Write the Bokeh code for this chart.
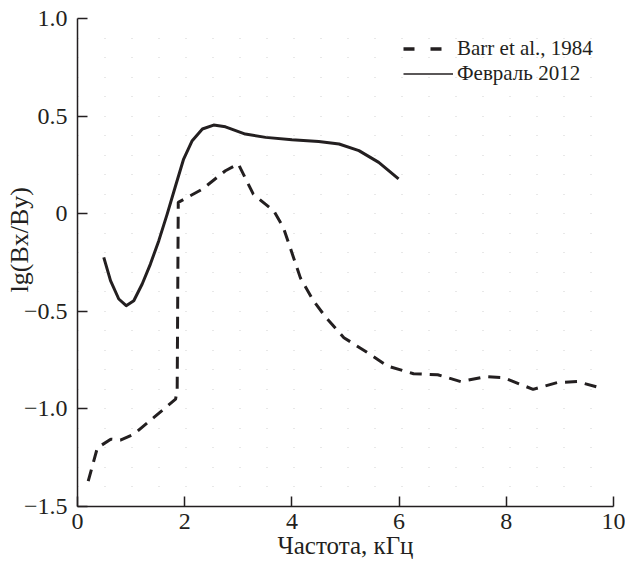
from bokeh.plotting import figure
from bokeh.models import Legend, LegendItem, SingleIntervalTicker, FixedTicker, ColumnDataSource
from bokeh.embed import file_html
from bokeh.resources import INLINE

# ---- data ----
barr_x = [0.2, 0.37, 0.62, 0.8, 1.05, 1.42, 1.83, 1.86, 1.88, 2.33, 2.76, 3.0, 3.28, 3.5, 3.66, 3.84,
          4.16, 4.4, 4.63, 4.97, 5.4, 5.78, 6.27, 6.72, 7.15, 7.62, 7.95, 8.5, 8.95, 9.33, 9.72]
barr_y = [-1.37, -1.2, -1.155, -1.16, -1.13, -1.045, -0.95, -0.9, 0.058, 0.126, 0.22, 0.255, 0.10, 0.05, 0.015, -0.07,
          -0.33, -0.445, -0.53, -0.635, -0.71, -0.78, -0.82, -0.825, -0.86, -0.835, -0.84, -0.90, -0.865, -0.86, -0.89]
feb_x = [0.49, 0.616, 0.77, 0.908, 1.05, 1.207, 1.36, 1.517, 1.673, 1.83, 1.98, 2.14, 2.33, 2.54, 2.76,
         3.13, 3.51, 4.0, 4.5, 4.88, 5.25, 5.62, 5.99]
feb_y = [-0.224, -0.343, -0.437, -0.471, -0.446, -0.36, -0.258, -0.138, -0.002, 0.143, 0.28, 0.374, 0.434,
         0.454, 0.445, 0.408, 0.391, 0.379, 0.370, 0.357, 0.323, 0.263, 0.178]
series_names = ["Barr et al., 1984", "Февраль 2012"]
x_ticks = [0, 2, 4, 6, 8, 10]
y_ticks = [-1.5, -1.0, -0.5, 0, 0.5, 1.0]
y_tick_labels = {-1.5: "\u22121.5", -1.0: "\u22121.0", -0.5: "\u22120.5", 0: "0", 0.5: "0.5", 1.0: "1.0"}
x_title = "Частота, кГц"
y_title = "lg(Bx/By)"

FONT = "Liberation Serif"
INK = "#231f20"

p = figure(frame_width=536, frame_height=488, x_range=(0, 10), y_range=(-1.5, 1.0),
           output_backend="svg", toolbar_location=None,
           min_border_left=77, min_border_right=12, min_border_top=18, min_border_bottom=62)
p.outline_line_color = None
p.background_fill_color = "white"

# faint dotted grid (dots at lattice points)
p.xgrid.grid_line_color = None
p.ygrid.ticker = SingleIntervalTicker(interval=0.1)
p.ygrid.grid_line_color = "#d0d0d0"
p.ygrid.grid_line_dash = "1 26"
p.ygrid.grid_line_width = 1

for ax, ticks in ((p.xaxis[0], x_ticks), (p.yaxis[0], y_ticks)):
    ax.ticker = FixedTicker(ticks=ticks)
    ax.minor_tick_line_color = None
    ax.major_tick_in = 10
    ax.major_tick_out = 0
    ax.major_tick_line_color = INK
    ax.major_tick_line_width = 1.5
    ax.axis_line_color = INK
    ax.axis_line_width = 1.5
    ax.major_label_text_font = FONT
    ax.major_label_text_font_size = "24px"
    ax.major_label_text_color = INK
    ax.axis_label_text_font = FONT
    ax.axis_label_text_font_style = "normal"
    ax.axis_label_text_color = INK
p.yaxis[0].major_label_overrides = y_tick_labels
p.xaxis[0].major_label_standoff = 7
p.yaxis[0].major_label_standoff = 10
p.xaxis[0].axis_label = x_title
p.xaxis[0].axis_label_text_font_size = "25px"
p.xaxis[0].axis_label_standoff = 0
# leading no-break spaces shift the rotated title up to where the reference has it
p.yaxis[0].axis_label = "\u00a0" * 7 + y_title
p.yaxis[0].axis_label_text_font_size = "26px"
p.yaxis[0].axis_label_standoff = -13

src_b = ColumnDataSource(dict(x=barr_x, y=barr_y))
src_f = ColumnDataSource(dict(x=feb_x, y=feb_y))
p.line("x", "y", source=src_b, line_color=INK, line_width=3, line_dash="12 8")
p.line("x", "y", source=src_f, line_color=INK, line_width=3, line_join="round")

# legend-only renderers (draw nothing in the plot)
nan = float("nan")
lb = p.line([nan], [nan], line_color=INK, line_width=3.5, line_dash="11 16")
lf = p.line([nan], [nan], line_color=INK, line_width=1.5)
legend = Legend(items=[LegendItem(label=series_names[0], renderers=[lb]),
                       LegendItem(label=series_names[1], renderers=[lf])],
                location=(326, 420), glyph_width=50, glyph_height=25, label_height=25,
                label_standoff=4, spacing=0, padding=0, margin=0,
                label_text_font=FONT, label_text_font_size="21px", label_text_color=INK,
                background_fill_alpha=0, border_line_color=None)
p.add_layout(legend, "center")

open("out.html", "w").write(file_html(p, INLINE))
